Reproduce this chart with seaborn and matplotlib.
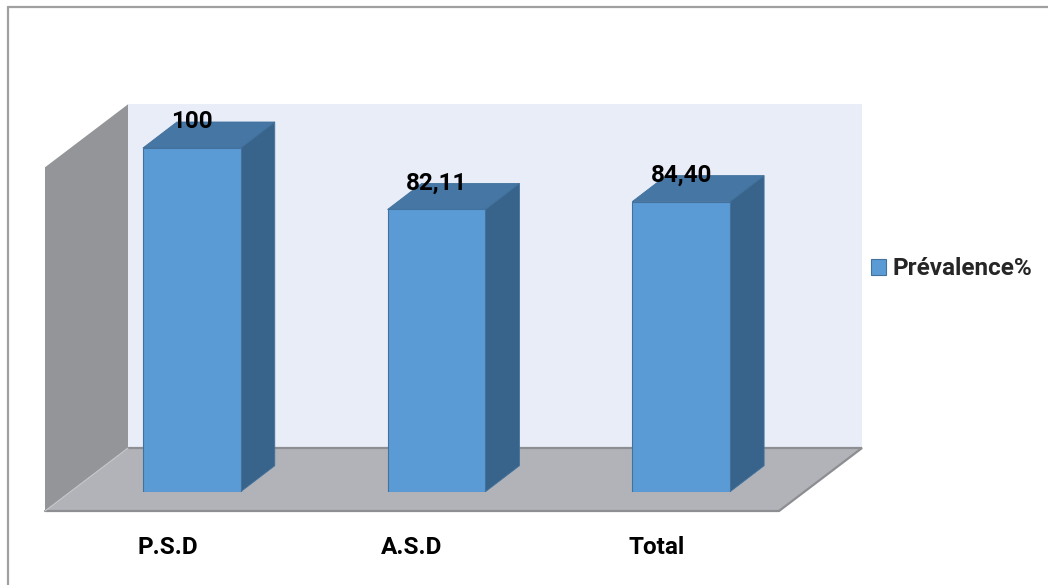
import matplotlib
matplotlib.use("Agg")
import matplotlib.pyplot as plt
import pandas as pd
import seaborn as sns
from matplotlib.patches import Polygon, Patch
from matplotlib.lines import Line2D

# Data
categories = ["P.S.D", "A.S.D", "Total"]
prevalence = [100, 82.11, 84.40]
value_labels = ["100", "82,11", "84,40"]
series_name = "Prévalence%"

# Colours
FRONT = "#5B9BD5"
TOP = "#4676A4"
SIDE = "#38648C"
EDGE = "#41719C"
BACK_WALL = "#E9EDF8"
SIDE_WALL = "#939598"
FLOOR = "#B1B3B8"
FLOOR_EDGE = "#8C8E92"
FS = 17.5

sns.set_theme(style="white")
plt.rcParams["font.family"] = ["Roboto", "DejaVu Sans"]

W, H = 1048, 585
fig = plt.figure(figsize=(W / 100, H / 100), dpi=100)
fig.patch.set_facecolor("white")

# The axes is the front plane of the bars; depth is drawn as pixel offsets
ax = fig.add_axes([69.5 / W, (H - 491.7) / H, 734 / W, 343.7 / H])
df = pd.DataFrame({"group": categories, "value": prevalence})
sns.barplot(data=df, x="group", y="value", color=FRONT, saturation=1,
            width=0.4, edgecolor=EDGE, linewidth=0.8, ax=ax, zorder=5)
ax.set_xlim(-0.5, len(categories) - 0.5)
ax.set_ylim(0, 100)
ax.set_xticks([])
ax.set_yticks([])
ax.set_xlabel("")
ax.set_ylabel("")
ax.set_facecolor("none")
for s in ax.spines.values():
    s.set_visible(False)

# pixel -> data conversion for depth offsets
p0 = ax.transData.transform((0, 0))
p1 = ax.transData.transform((1, 100))
px_x = p1[0] - p0[0]
px_y = (p1[1] - p0[1]) / 100.0


def off(dx, dy):
    return dx / px_x, dy / px_y


Fx, Fy = off(-24.5, -19.3)   # floor front edge
Bx, By = off(58.5, 43.7)     # back wall plane
Dx, Dy = off(34, 26)         # bar depth

x0, x1 = -0.5, len(categories) - 0.5
ymax = 100


def poly(pts, fc, ec="none", lw=0, z=1):
    ax.add_patch(Polygon(pts, closed=True, facecolor=fc, edgecolor=ec,
                         linewidth=lw, zorder=z, clip_on=False))


# back wall, side wall, floor
poly([(x0 + Bx, By), (x1 + Bx, By), (x1 + Bx, ymax + By), (x0 + Bx, ymax + By)],
     BACK_WALL, z=0)
poly([(x0 + Fx, Fy), (x0 + Bx, By), (x0 + Bx, ymax + By), (x0 + Fx, ymax + Fy)],
     SIDE_WALL, z=1)
poly([(x0 + Fx, Fy), (x1 + Fx, Fy), (x1 + Bx, By), (x0 + Bx, By)], FLOOR, z=1)
ax.plot([x0 + Fx, x1 + Fx, x1 + Bx, x0 + Bx], [Fy, Fy, By, By],
        color=FLOOR_EDGE, lw=1.6, zorder=2, clip_on=False,
        solid_joinstyle="miter")
ax.plot([x0 + Fx, x0 + Bx], [Fy, By], color="#C4C6CA", lw=0.8, zorder=2,
        clip_on=False)

# 3-D top and side faces of each bar
w = 0.2
for i, v in enumerate(prevalence):
    poly([(i - w, v), (i + w, v), (i + w + Dx, v + Dy), (i - w + Dx, v + Dy)],
         TOP, ec=EDGE, lw=0.6, z=4)
    poly([(i + w, 0), (i + w + Dx, Dy), (i + w + Dx, v + Dy), (i + w, v)],
         SIDE, ec=EDGE, lw=0.6, z=4)
    ax.annotate(value_labels[i], xy=(i, v), xytext=(0, 26),
                textcoords="offset pixels", ha="center", va="center",
                fontsize=FS, fontweight="bold", color="black", zorder=10,
                annotation_clip=False)

# category labels under the floor front edge
for i, name in enumerate(categories):
    ax.annotate(name, xy=(i + Fx, Fy), xytext=(0, -36),
                textcoords="offset pixels", ha="center", va="center",
                fontsize=FS, fontweight="bold", color="black",
                annotation_clip=False)

# legend
ax.legend(handles=[Patch(facecolor=FRONT, edgecolor=EDGE, linewidth=0.8)],
          labels=[series_name], loc="center left",
          bbox_to_anchor=(871 / W, 1 - 269 / H), bbox_transform=fig.transFigure,
          frameon=False, borderpad=0, borderaxespad=0,
          handlelength=0.6, handleheight=0.65, handletextpad=0.3,
          prop={"size": FS, "weight": "bold"})

# chart border
fig.add_artist(Line2D([8 / W, 8 / W], [0, 1 - 7 / H], color="#A0A0A0", lw=1.6,
                      transform=fig.transFigure))
fig.add_artist(Line2D([8 / W, 1], [1 - 7 / H, 1 - 7 / H], color="#A0A0A0",
                      lw=1.6, transform=fig.transFigure))

fig.savefig("out.png", dpi=100, facecolor="white")
